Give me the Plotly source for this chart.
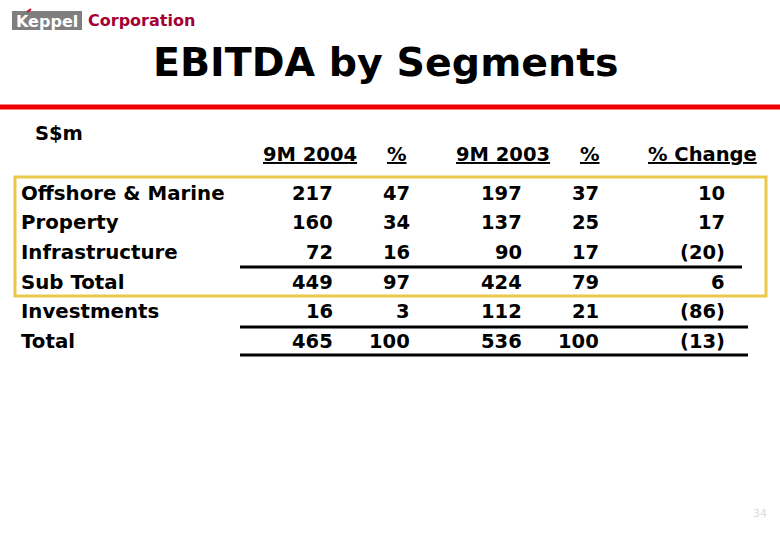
import plotly.graph_objects as go

segments = ["Offshore & Marine", "Property", "Infrastructure", "Sub Total", "Investments", "Total"]
ebitda_2004 = ["217", "160", "72", "449", "16", "465"]
pct_2004 = ["47", "34", "16", "97", "3", "100"]
ebitda_2003 = ["197", "137", "90", "424", "112", "536"]
pct_2003 = ["37", "25", "17", "79", "21", "100"]
pct_change = ["10", "17", "(20)", "6", "(86)", "(13)"]
headers = ["9M 2004", "%", "9M 2003", "%", "% Change"]

FONT = "DejaVu Sans"
W, H = 780, 540

fig = go.Figure()
fig.add_trace(go.Scatter(x=[0, W], y=[0, H], mode="markers", marker=dict(opacity=0), hoverinfo="skip", showlegend=False))

ann = []
shapes = []

def txt(x, y, s, size=19, color="black", xanchor="left", bold=True, family=FONT):
    ann.append(dict(x=x, y=y, xref="x", yref="y", text=("<b>%s</b>" % s) if bold else s,
                    showarrow=False, xanchor=xanchor, yanchor="middle",
                    font=dict(family=family, size=size, color=color)))

# Logo
shapes.append(dict(type="rect", xref="x", yref="y", x0=12, x1=82, y0=11, y1=30,
                   fillcolor="#7f7f7f", line=dict(width=0), layer="below"))
txt(47, 21, "Keppel", size=16, color="white", xanchor="center")
shapes.append(dict(type="line", xref="x", yref="y", x0=27, x1=31, y0=12, y1=9,
                   line=dict(color="#c8102e", width=2)))
txt(86, 20, "Corporation", size=16, color="#a50034")

# Title
txt(386, 62, "EBITDA by Segments", size=39.5, xanchor="center")

# Red rule
shapes.append(dict(type="line", xref="x", yref="y", x0=0, x1=W, y0=107, y1=107,
                   line=dict(color="#ee0000", width=5)))

# S$m
txt(33, 133, "S$m", size=19.5)

# Headers
header_x = [310, 397, 503, 590, 702]
for hx, h in zip(header_x, headers):
    txt(hx, 154, "<u>%s</u>" % h, size=19.5, xanchor="center")

# Rows
row_y = [193, 222, 252, 282, 311, 341]
cols = [(ebitda_2004, 335), (pct_2004, 412), (ebitda_2003, 524), (pct_2003, 601), (pct_change, 727)]
for i, y in enumerate(row_y):
    txt(19, y, segments[i], size=19.8)
    for vals, rx in cols:
        txt(rx, y, vals[i], size=19.5, xanchor="right")

# Underlines
for y, x1 in [(267, 742), (327, 748), (355, 748)]:
    shapes.append(dict(type="line", xref="x", yref="y", x0=240, x1=x1, y0=y, y1=y,
                       line=dict(color="black", width=3)))

# Yellow highlight box
shapes.append(dict(type="rect", xref="x", yref="y", x0=15, x1=766, y0=177, y1=296,
                   fillcolor="rgba(0,0,0,0)", line=dict(color="#eac84a", width=3)))

# page number
txt(760, 513, "34", size=11, color="#dddddd", xanchor="center", bold=False)

fig.update_layout(
    width=W, height=H, margin=dict(l=0, r=0, t=0, b=0),
    paper_bgcolor="white", plot_bgcolor="white",
    xaxis=dict(range=[0, W], visible=False, fixedrange=True),
    yaxis=dict(range=[H, 0], visible=False, fixedrange=True),
    annotations=ann, shapes=shapes, showlegend=False,
)
fig.write_html("out.html", config={"displayModeBar": False},
               post_script="document.body.style.margin='0';document.body.style.overflow='hidden';")
